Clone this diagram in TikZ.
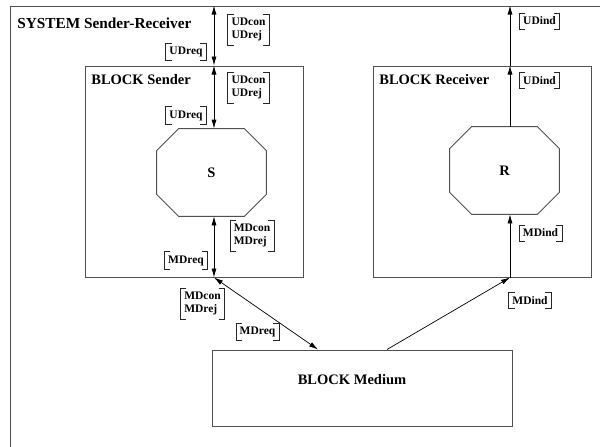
\documentclass[tikz,border=0pt]{standalone}
\usepackage{fontspec}
\setmainfont{Liberation Serif}
\usetikzlibrary{arrows.meta}
\definecolor{boxGray}{HTML}{505050}

\tikzset{
  block/.style={draw=boxGray, line width=1pt, minimum width=218pt, minimum height=211pt},
  procbox/.style={minimum width=109pt, minimum height=87pt, inner sep=0pt,
    font=\fontsize{14.5}{17}\selectfont\bfseries},
  octline/.style={draw=boxGray, line width=0.9pt},
  blocktitle/.style={font=\fontsize{14.5}{17}\selectfont\bfseries, inner sep=0pt, anchor=west},
  siglist/.style={font=\fontsize{11.5}{13.5}\selectfont\bfseries, align=left, inner xsep=3.5pt, inner ysep=3.5pt},
  brk/.style={line width=0.7pt, black!85}
}

% square brackets round a signal list
\newcommand{\sigbrackets}[1]{%
  \draw[brk] ([xshift=6pt]#1.north west) -- (#1.north west) -- (#1.south west) -- ([xshift=6pt]#1.south west);
  \draw[brk] ([xshift=-6pt]#1.north east) -- (#1.north east) -- (#1.south east) -- ([xshift=-6pt]#1.south east);
}
% process outline: corners cut off the node's box
\newcommand{\procoutline}[1]{%
  \draw[octline] ([shift={(22,0)}]#1.north west) -- ([shift={(-22,0)}]#1.north east)
    -- ([shift={(0,22)}]#1.north east) -- ([shift={(0,-22)}]#1.south east)
    -- ([shift={(-22,0)}]#1.south east) -- ([shift={(22,0)}]#1.south west)
    -- ([shift={(0,-22)}]#1.south west) -- ([shift={(0,22)}]#1.north west) -- cycle;
}

\begin{document}
\begin{tikzpicture}[x=1pt, y=-1pt, >={Latex[length=9pt,width=5pt]}, line width=0.7pt]
  \clip (0,0) rectangle (600,447);
  % system frame (runs off the page right and bottom)
  \node[block, minimum width=610pt, minimum height=464pt] (system) at (315,238) {};
  \node[blocktitle, font=\fontsize{15.3}{18}\selectfont\bfseries] (systitle) at (17,23) {SYSTEM Sender-Receiver};
  % blocks
  \node[block] (sender) at (194,171.5) {};
  \node[block] (receiver) at (482,171.5) {};
  \node[block, minimum width=300pt, minimum height=76pt] (medium) at (362,388) {};
  \node[blocktitle] (sendertitle) at (91,80) {BLOCK Sender};
  \node[blocktitle] (receivertitle) at (379,80) {BLOCK Receiver};
  \node[blocktitle, anchor=center] (mediumtitle) at (352,380) {BLOCK Medium};
  % processes
  \node[procbox] (S) at (211.5,172.5) {S};
  \procoutline{S}
  \node[procbox] (R) at (504.5,170.5) {R};
  \procoutline{R}
  % channels
  \coordinate (chS) at (214,0);
  \coordinate (chR) at (510,0);
  \draw[<->] (chS |- system.north) -- (chS |- sender.north);
  \draw[<->] (chS |- sender.north) -- (chS |- S.north);
  \draw[<->] (chS |- S.south) -- (chS |- sender.south);
  \draw[<->] (chS |- sender.south) -- ([xshift=-44pt]medium.north);
  \draw[->] ([xshift=25pt]medium.north) -- (chR |- receiver.south);
  \draw[->] (chR |- receiver.south) -- (chR |- R.south);
  \draw[->] (chR |- R.north) -- (chR |- receiver.north);
  \draw[->] (chR |- receiver.north) -- (chR |- system.north);
  % signal lists
  \node[siglist] (udconA) at (248.5,29.5) {UDcon\\UDrej}; \sigbrackets{udconA}
  \node[siglist] (udreqA) at (186,52) {UDreq}; \sigbrackets{udreqA}
  \node[siglist] (udconB) at (248.5,87.5) {UDcon\\UDrej}; \sigbrackets{udconB}
  \node[siglist] (udreqB) at (186,115.5) {UDreq}; \sigbrackets{udreqB}
  \node[siglist] (mdconB) at (252,235.5) {MDcon\\MDrej}; \sigbrackets{mdconB}
  \node[siglist] (mdreqB) at (186,260.5) {MDreq}; \sigbrackets{mdreqB}
  \node[siglist] (mdconA) at (202.5,303.5) {MDcon\\MDrej}; \sigbrackets{mdconA}
  \node[siglist] (mdreqA) at (257.5,332) {MDreq}; \sigbrackets{mdreqA}
  \node[siglist] (udindA) at (539.5,21) {UDind}; \sigbrackets{udindA}
  \node[siglist] (udindB) at (539.5,80.5) {UDind}; \sigbrackets{udindB}
  \node[siglist] (mdindB) at (540.5,233) {MDind}; \sigbrackets{mdindB}
  \node[siglist] (mdindA) at (530,300.5) {MDind}; \sigbrackets{mdindA}
\end{tikzpicture}
\end{document}
